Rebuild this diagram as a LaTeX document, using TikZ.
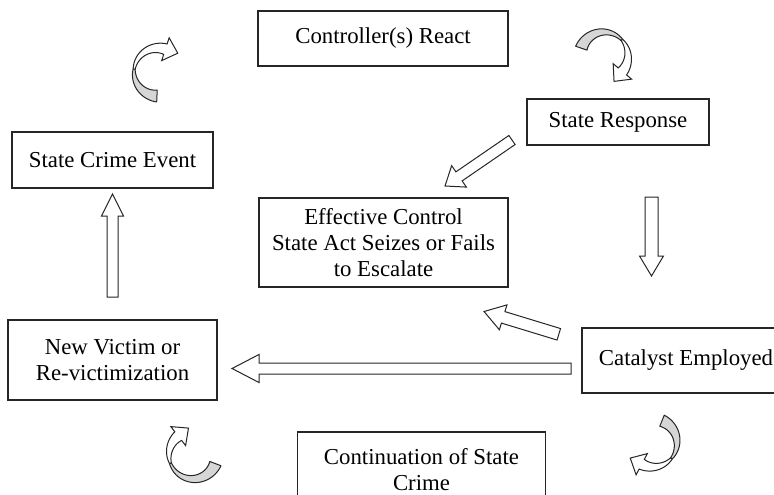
\documentclass[tikz,border=0pt]{standalone}
\usepackage{fontspec}
\setmainfont{Liberation Serif}
\usetikzlibrary{calc}
\tikzset{
  box/.style={draw=black!85, line width=1.2pt, fill=white, inner sep=0pt, align=center,
    font=\fontsize{22.8}{26.2}\selectfont},
  barrow/.style={draw=black!85, fill=white, line width=1pt, line join=miter},
  twistback/.style={draw=black!85, fill=black!16, line width=1pt, line join=round},
  twistfront/.style={draw=black!85, fill=white, line width=1pt, line join=miter},
}
% block arrow: name, x1, y1, x2, y2 (image coords, y down), shaft half, head half, head length
\newcommand{\blockarr}[8]{%
  \coordinate (#1-tail) at (#2,-#3);
  \coordinate (#1-tip) at (#4,-#5);
  \pgfmathsetmacro\BAang{atan2(-(#5)+(#3),(#4)-(#2))}
  \pgfmathsetmacro\BAlen{veclen((#4)-(#2),-(#5)+(#3))}
  \begin{scope}[shift={(#1-tail)}, rotate=\BAang]
    \draw[barrow] (0,#6) -- (\BAlen-#8,#6) -- (\BAlen-#8,#7) -- (\BAlen,0)
      -- (\BAlen-#8,-#7) -- (\BAlen-#8,-#6) -- (0,-#6) -- cycle;
  \end{scope}}
% twisted curved arrow: cx, cy (image coords), phi start, phi twist, phi end (clockwise)
\newcommand{\twistarrow}[5]{%
  \begin{scope}[shift={(#1,-#2)}]
    \filldraw[twistback]
      plot[domain=0:1,samples=30] ({(30-5*\x)*cos(#3+(#4-(#3))*\x)},{(30-5*\x)*sin(#3+(#4-(#3))*\x)})
      -- plot[domain=0:1,samples=30] ({(23-5*\x)*cos(#4+(#3-(#4))*\x)},{(23-5*\x)*sin(#4+(#3-(#4))*\x)})
      -- cycle;
    \filldraw[twistfront]
      plot[domain=0:1,samples=30] ({(25+4.5*\x)*cos(#4+(#5-(#4))*\x)},{(25+4.5*\x)*sin(#4+(#5-(#4))*\x)})
      -- ({36*cos(#5)},{36*sin(#5)})
      -- ({24*cos(#5)+13*sin(#5)},{24*sin(#5)-13*cos(#5)})
      -- ({12*cos(#5)},{12*sin(#5)})
      -- plot[domain=0:1,samples=30] ({(18.5+4.5*\x)*cos(#5+(#4-(#5))*\x)},{(18.5+4.5*\x)*sin(#5+(#4-(#5))*\x)})
      -- cycle;
  \end{scope}}
\begin{document}
\begin{tikzpicture}[x=1pt,y=1pt]
\useasboundingbox (0,0) rectangle (774,-495);
\fill[white] (0,0) rectangle (774,-495);
\clip (0,0) rectangle (774,-495);

\node[box, minimum width=250pt, minimum height=55pt] (ctrl) at (383,-38.5) {Controller(s) React};
\node[box, minimum width=182pt, minimum height=46pt] (resp) at (618,-122) {State Response};
\node[box, minimum width=201pt, minimum height=56pt] (crime) at (112.5,-160) {State Crime Event};
\node[box, minimum width=249pt, minimum height=89pt] (eff) at (383.5,-242.5) {Effective Control\\State Act Seizes or Fails\\to Escalate};
\node[box, minimum width=209pt, minimum height=80pt] (victim) at (112.5,-360) {New Victim or\\Re-victimization};
\node[box, minimum width=208pt, minimum height=65pt] (cat) at (686,-360.5) {Catalyst Employed};
\node[box, minimum width=248pt, minimum height=75pt] (cont) at (421.5,-469.5) {Continuation of State\\Crime};

\blockarr{respeff}{512}{140}{445}{186}{5.5}{13}{17}
\blockarr{respcat}{651.5}{197}{651.5}{276}{6.5}{12}{20}
\blockarr{victcrime}{112.5}{297}{112.5}{194}{5.5}{11}{22}
\blockarr{catvict}{571}{368.5}{232}{368.5}{5.5}{14}{27}
\blockarr{cateff}{558.8}{334.3}{484}{311.5}{6}{13}{20}

\twistarrow{158}{72}{-92.5}{-187}{-288}
\twistarrow{604}{56}{161}{42}{-40}
\twistarrow{193}{455}{-21}{-160}{-232}
\twistarrow{653}{443}{68}{-40}{-118}
\end{tikzpicture}
\end{document}
